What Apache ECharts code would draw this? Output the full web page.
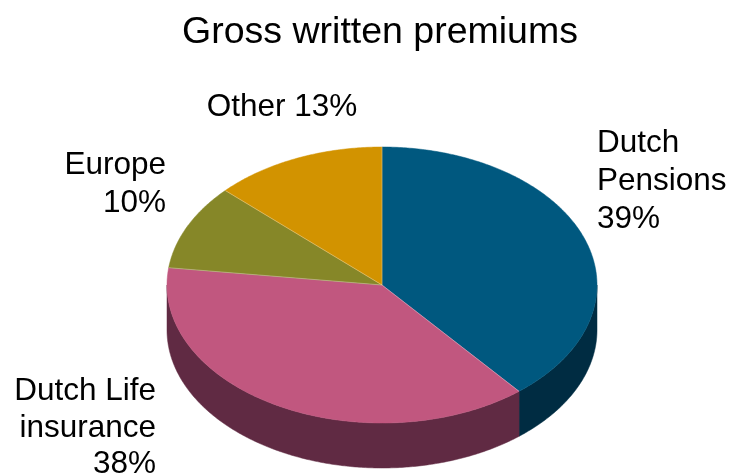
<!DOCTYPE html>
<html>
<head>
<meta charset="utf-8">
<title>Gross written premiums</title>
<script src="https://cdn.jsdelivr.net/npm/echarts@6/dist/echarts.min.js"></script>
<style>
  html, body { margin: 0; padding: 0; background: #ffffff; }
  #chart { width: 731px; height: 476px; }
</style>
</head>
<body>
<div id="chart"></div>
<script>
// Segment names and their share of gross written premiums (%)
const segments = ['Dutch Pensions', 'Dutch Life insurance', 'Europe', 'Other'];
const shares = [39, 38, 10, 13];
// Label text, one entry per segment (line breaks as shown)
const labelLines = [
  ['Dutch', 'Pensions', '39%'],
  ['Dutch Life', 'insurance', '38%'],
  ['Europe', '10%'],
  ['Other 13%']
];

// Colours of the top face and the rim of each segment
const topColors = ['#00587F', '#C1577F', '#868728', '#D29300'];
const sideColors = ['#002C42', '#602A43', '#434414', '#694900'];

// Layout of the tilted pie (pixels)
const pie = { cx: 382, cy: 285, rx: 215, ry: 138, depth: 45 };
// Label anchors: x, y of the middle line, alignment, line height
const labelLayout = [
  { x: 597, y: 181, align: 'left', lh: 38 },
  { x: 156, y: 428, align: 'right', lh: 36.5 },
  { x: 166, y: 184.5, align: 'right', lh: 38 },
  { x: 282, y: 107.5, align: 'center', lh: 38 }
];
const FONT = '"Liberation Sans", Arial, sans-serif';
const LABEL_SIZE = 31.5;

const total = shares.reduce((a, b) => a + b, 0);
const cumulative = [];
shares.reduce((acc, v, i) => { cumulative[i] = acc; return acc + v; }, 0);

// Point on the ellipse; angle measured clockwise from 12 o'clock
function ellipsePoint(theta, dy) {
  return [pie.cx + pie.rx * Math.sin(theta), pie.cy - pie.ry * Math.cos(theta) + (dy || 0)];
}
function arcPoints(a0, a1, dy) {
  const pts = [];
  const steps = Math.max(2, Math.ceil(Math.abs(a1 - a0) / 0.01));
  for (let k = 0; k <= steps; k++) {
    pts.push(ellipsePoint(a0 + (a1 - a0) * k / steps, dy));
  }
  return pts;
}

function renderItem(params, api) {
  const i = params.dataIndex;
  const value = api.value(0);
  const a0 = cumulative[i] / total * Math.PI * 2;
  const a1 = a0 + value / total * Math.PI * 2;
  const children = [];

  // Rim: only the part facing the viewer (lower half of the ellipse)
  const s0 = Math.max(a0, Math.PI / 2);
  const s1 = Math.min(a1, Math.PI * 1.5);
  if (s1 > s0) {
    const upper = arcPoints(s0, s1, 0);
    const lower = arcPoints(s1, s0, pie.depth);
    children.push({
      type: 'polygon',
      z2: 1,
      shape: { points: upper.concat(lower) },
      style: { fill: sideColors[i], stroke: sideColors[i], lineWidth: 0.5 }
    });
  }

  // Top face
  children.push({
    type: 'polygon',
    z2: 10,
    shape: { points: [[pie.cx, pie.cy]].concat(arcPoints(a0, a1, 0)) },
    style: { fill: topColors[i], stroke: topColors[i], lineWidth: 0.5 }
  });
  // Thin light seam along the segment's leading edge
  const edge = ellipsePoint(a0, 0);
  children.push({
    type: 'line',
    z2: 12,
    shape: { x1: pie.cx, y1: pie.cy, x2: edge[0], y2: edge[1] },
    style: { stroke: 'rgba(255,255,255,0.3)', lineWidth: 1 }
  });

  // Label
  const L = labelLayout[i];
  const lines = labelLines[i];
  const mid = (lines.length - 1) / 2;
  lines.forEach((t, k) => {
    children.push({
      type: 'text',
      z2: 20,
      style: {
        text: t,
        x: L.x,
        y: L.y + (k - mid) * L.lh,
        align: L.align,
        verticalAlign: 'middle',
        fill: '#000000',
        font: LABEL_SIZE + 'px ' + FONT
      }
    });
  });

  return { type: 'group', children: children };
}

const chart = echarts.init(document.getElementById('chart'), null, { renderer: 'canvas' });
chart.setOption({
  animation: false,
  backgroundColor: '#ffffff',
  title: {
    text: 'Gross written premiums',
    left: 375,
    textAlign: 'center',
    top: 9,
    textStyle: { fontFamily: FONT, fontSize: 37.5, fontWeight: 'normal', color: '#000000' }
  },
  series: [{
    type: 'custom',
    coordinateSystem: 'none',
    name: 'Gross written premiums',
    data: shares.map((v, i) => ({ name: segments[i], value: [v] })),
    renderItem: renderItem
  }]
});
</script>
</body>
</html>
